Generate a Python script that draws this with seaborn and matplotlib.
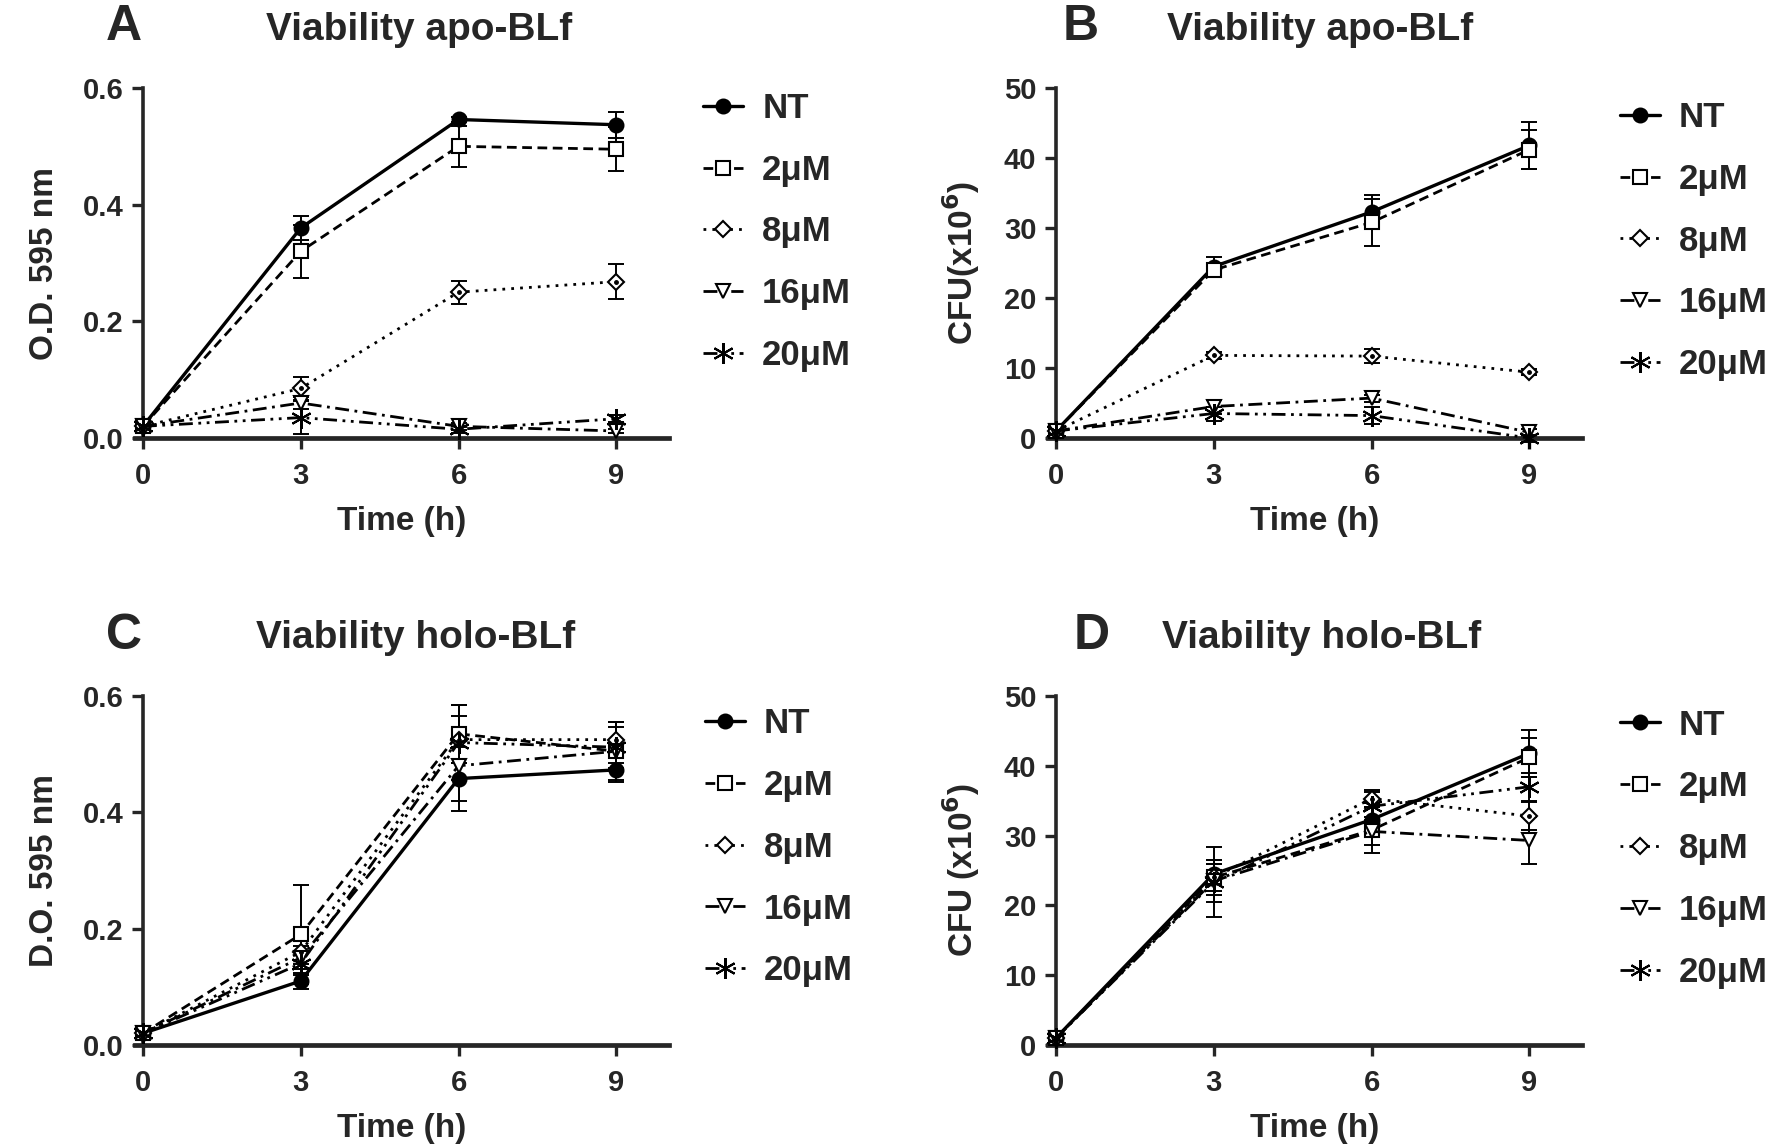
import numpy as np
import pandas as pd
import matplotlib
matplotlib.use('Agg')
import matplotlib.pyplot as plt
from matplotlib.lines import Line2D
import seaborn as sns

# ---- data ----
time_h = [0, 3, 6, 9]
groups = ['NT', '2μM', '8μM', '16μM', '20μM']

# A: viability apo-BLf, O.D. 595 nm
apo_od_mean = [[0.02, 0.36, 0.546, 0.537],
               [0.02, 0.32, 0.50, 0.495],
               [0.02, 0.085, 0.25, 0.268],
               [0.02, 0.06, 0.02, 0.012],
               [0.02, 0.035, 0.015, 0.033]]
apo_od_err = [[0.004, 0.02, 0.004, 0.022],
              [0.004, 0.045, 0.035, 0.038],
              [0.004, 0.02, 0.02, 0.03],
              [0.004, 0.01, 0.006, 0.004],
              [0.004, 0.028, 0.006, 0.006]]

# B: viability apo-BLf, CFU (x10^6)
apo_cfu_mean = [[1.0, 24.5, 32.3, 41.8],
                [1.0, 24.0, 30.8, 41.2],
                [1.0, 11.8, 11.7, 9.4],
                [1.0, 4.5, 5.7, 0.8],
                [1.0, 3.5, 3.2, 0.0]]
apo_cfu_err = [[0.3, 1.3, 2.4, 3.4],
               [0.3, 1.0, 3.3, 2.8],
               [0.3, 0.5, 1.0, 0.4],
               [0.3, 1.0, 0.5, 0.5],
               [0.3, 1.0, 1.2, 0.5]]

# C: viability holo-BLf, D.O. 595 nm
holo_od_mean = [[0.02, 0.11, 0.458, 0.473],
                [0.02, 0.19, 0.535, 0.505],
                [0.02, 0.16, 0.525, 0.525],
                [0.02, 0.15, 0.48, 0.505],
                [0.02, 0.14, 0.52, 0.512]]
holo_od_err = [[0.004, 0.013, 0.055, 0.02],
               [0.004, 0.085, 0.05, 0.05],
               [0.004, 0.02, 0.04, 0.03],
               [0.004, 0.02, 0.06, 0.02],
               [0.004, 0.02, 0.065, 0.035]]

# D: viability holo-BLf, CFU (x10^6)
holo_cfu_mean = [[1.0, 24.5, 32.3, 41.8],
                 [1.0, 24.0, 30.8, 41.2],
                 [1.0, 24.0, 35.3, 32.8],
                 [1.0, 23.5, 30.6, 29.3],
                 [1.0, 23.3, 34.2, 37.0]]
holo_cfu_err = [[0.3, 1.5, 2.4, 3.4],
                [0.3, 2.5, 3.3, 2.8],
                [0.3, 2.0, 1.2, 2.0],
                [0.3, 3.0, 2.0, 3.4],
                [0.3, 5.0, 2.0, 2.0]]

# ---- styles ----
styles = [
    dict(ls='-', marker='o', mfc='black', ms=10, lw=2.4),
    dict(ls=(0, (3.5, 2)), marker='s', mfc='white', ms=10, lw=2.0),
    dict(ls=(0, (1, 2.2)), marker='D', mfc='white', ms=8.5, lw=2.0),
    dict(ls=(0, (5, 2, 1, 2)), marker='v', mfc='white', ms=10.5, lw=2.0),
    dict(ls=(0, (5, 2, 1, 2, 1, 2)), marker=(6, 2, 0), mfc='black', ms=15, lw=2.0),
]

sns.set_style('ticks')
plt.rcParams['font.family'] = ['Liberation Sans', 'DejaVu Sans']
plt.rcParams['font.weight'] = 'bold'

W, H = 1772, 1144
fig = plt.figure(figsize=(W / 100, H / 100), dpi=100)


def px_axes(l, t, r, b):
    return fig.add_axes([l / W, 1 - b / H, (r - l) / W, (b - t) / H])


def draw_panel(ax, means, errs, ymax, yticks, ylabels, ylabel, leg_anchor):
    for g, m, e, st in zip(groups, means, errs, styles):
        ax.errorbar(time_h, m, yerr=e, fmt='none', ecolor='black', elinewidth=1.4,
                    capsize=6, capthick=1.4, clip_on=False, zorder=2)
        df = pd.DataFrame({'t': time_h, 'v': m})
        sns.lineplot(data=df, x='t', y='v', ax=ax, color='black', linestyle=st['ls'],
                     linewidth=st['lw'], marker=st['marker'], markersize=st['ms'],
                     markerfacecolor=st['mfc'], markeredgecolor='black',
                     markeredgewidth=1.5, clip_on=False, zorder=3, errorbar=None)
        if st['marker'] == 'D':
            ax.plot(time_h, m, linestyle='none', marker='o', ms=2.5, color='black',
                    clip_on=False, zorder=4)
    ax.set_xlim(-0.15, 10)
    ax.set_ylim(0, ymax)
    ax.spines['left'].set_position(('data', 0))
    ax.spines[['top', 'right']].set_visible(False)
    ax.spines['left'].set_linewidth(2.6)
    ax.spines['bottom'].set_linewidth(3.4)
    ax.set_xticks(time_h)
    ax.set_xticklabels([str(t) for t in time_h])
    ax.set_yticks(yticks)
    ax.set_yticklabels(ylabels)
    ax.tick_params(direction='out', length=8, width=2.4, labelsize=21, pad=6)
    ax.tick_params(axis='x', pad=9)
    for lab in ax.get_xticklabels() + ax.get_yticklabels():
        lab.set_fontweight('bold')
    ax.set_xlabel('Time (h)', fontsize=24, fontweight='bold', labelpad=12)
    ax.set_ylabel(ylabel, fontsize=24, fontweight='bold', labelpad=16)

    handles = []
    for st in styles:
        h = Line2D([0], [0], color='black', linestyle=st['ls'], linewidth=st['lw'],
                   marker=st['marker'], markersize=st['ms'],
                   markerfacecolor=st['mfc'], markeredgecolor='black', markeredgewidth=1.5)
        handles.append(h)
    ax.legend(handles, groups, loc='upper left', bbox_to_anchor=leg_anchor,
              frameon=False, handlelength=1.15, handletextpad=0.55, labelspacing=0.83,
              borderpad=0, borderaxespad=0,
              prop=dict(size=25, weight='bold'))


ax_a = px_axes(135, 88, 669, 438)
ax_b = px_axes(1048, 88, 1582, 438)
ax_c = px_axes(135, 696, 669, 1045)
ax_d = px_axes(1048, 696, 1582, 1045)

od_ticks = [0.0, 0.2, 0.4, 0.6]
od_labels = ['0.0', '0.2', '0.4', '0.6']
cfu_ticks = [0, 10, 20, 30, 40, 50]
cfu_labels = [str(v) for v in cfu_ticks]

draw_panel(ax_a, apo_od_mean, apo_od_err, 0.6, od_ticks, od_labels,
           'O.D. 595 nm', (1.064, 0.989))
draw_panel(ax_b, apo_cfu_mean, apo_cfu_err, 50, cfu_ticks, cfu_labels,
           'CFU(x10$^{6}$)', (1.071, 0.963))
draw_panel(ax_c, holo_od_mean, holo_od_err, 0.6, od_ticks, od_labels,
           'D.O. 595 nm', (1.067, 0.968))
draw_panel(ax_d, holo_cfu_mean, holo_cfu_err, 50, cfu_ticks, cfu_labels,
           'CFU (x10$^{6}$)', (1.071, 0.964))

# panel letters and titles
letters = [('A', 124, 27), ('B', 1081, 27), ('C', 124, 636), ('D', 1092, 636)]
titles = [('Viability apo-BLf', 419, 30), ('Viability apo-BLf', 1320, 30),
          ('Viability holo-BLf', 416, 638), ('Viability holo-BLf', 1322, 638)]
for s, x, y in letters:
    fig.text(x / W, 1 - y / H, s, fontsize=36, fontweight='bold',
             ha='center', va='center')
for s, x, y in titles:
    fig.text(x / W, 1 - y / H, s, fontsize=28, fontweight='bold', ha='center', va='center')

fig.savefig('out.png', dpi=100, facecolor='white')
